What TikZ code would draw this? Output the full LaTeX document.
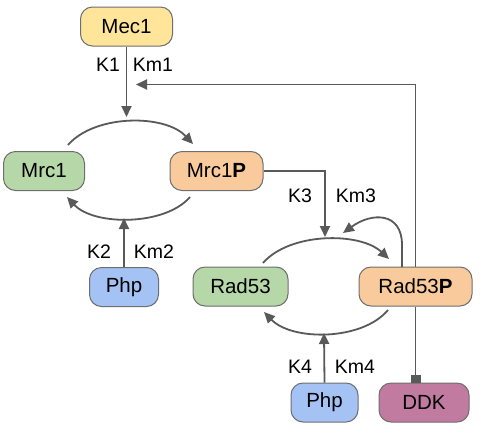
\documentclass[tikz,border=0pt]{standalone}
\usepackage{fontspec}
\setmainfont{Liberation Sans}
\usetikzlibrary{arrows.meta}
\definecolor{lineg}{HTML}{595959}
\definecolor{bord}{HTML}{6E6E6E}
\definecolor{cyel}{HTML}{FFE599}
\definecolor{cgrn}{HTML}{B6D7A8}
\definecolor{corg}{HTML}{F9CB9C}
\definecolor{cblu}{HTML}{A4C2F4}
\definecolor{cpur}{HTML}{C27BA0}
\tikzset{
  pbox/.style={draw=bord, line width=1pt, rounded corners=12pt, minimum height=39pt, inner sep=0pt, font=\fontsize{20.5}{23}\selectfont},
  lbl/.style={font=\fontsize{19.5}{22}\selectfont, inner sep=0pt},
  conn/.style={draw=lineg, line width=1.8pt},
  arr/.style={conn, -{Triangle[length=11pt,width=10pt]}},
  inh/.style={conn, -{Rectangle[length=8pt,width=10pt]}}
}
\begin{document}
\begin{tikzpicture}[x=1pt,y=-1pt]
\useasboundingbox (0,0) rectangle (481,429);
% nodes
\node[pbox, fill=cyel, minimum width=92pt] (mec1) at (126.5,26.5) {Mec1};
\node[pbox, fill=cgrn, minimum width=81pt] (mrc1) at (44,171) {Mrc1};
\node[pbox, fill=corg, minimum width=93pt] (mrc1p) at (216.5,171) {Mrc1\textbf{P}};
\node[pbox, fill=cblu, minimum width=69pt] (php1) at (124,287) {Php};
\node[pbox, fill=cgrn, minimum width=95pt] (rad53) at (240.5,286.5) {Rad53};
\node[pbox, fill=corg, minimum width=113pt] (rad53p) at (415.5,286.5) {Rad53\textbf{P}};
\node[pbox, fill=cblu, minimum width=67pt] (php2) at (324.5,402.5) {Php};
\node[pbox, fill=cpur, minimum width=90pt] (ddk) at (424,402.5) {DDK};
% labels
\node[lbl] (k1) at (108,65) {K1};
\node[lbl] (km1) at (153,65) {Km1};
\node[lbl] (k2) at (99,252) {K2};
\node[lbl] (km2) at (154,252) {Km2};
\node[lbl] (k3) at (300,196) {K3};
\node[lbl] (km3) at (356,196) {Km3};
\node[lbl] (k4) at (300,367) {K4};
\node[lbl] (km4) at (355,367) {Km4};
% coordinates
\coordinate (a1s) at (68,145);
\coordinate (a1e) at (193,144);
\coordinate (a2s) at (190,197);
\coordinate (a2e) at (67,197);
\coordinate (a3s) at (263,263);
\coordinate (a3e) at (389,259);
\coordinate (a4s) at (388,310);
\coordinate (a4e) at (264,312);
\coordinate (t1) at (126.5,117);
\coordinate (t2) at (124,218);
\coordinate (t3) at (325,237);
\coordinate (t4) at (324,333);
\coordinate (fbturn) at (415.5,84.5);
\coordinate (fbend) at (136,84.5);
\coordinate (m3turn) at (325,171);
\coordinate (lpstart) at (402,267);
\coordinate (lpend) at (343,233);
% arcs
\draw[arr] (a1s) .. controls (95,114) and (165,114) .. (a1e);
\draw[arr] (a2s) .. controls (165,226) and (94,226) .. (a2e);
\draw[arr] (a3s) .. controls (290,232) and (360,232) .. (a3e);
\draw[arr] (a4s) .. controls (362,341) and (292,341) .. (a4e);
% connectors
\draw[arr] (mec1.south) -- (t1);
\draw[arr] (php1.north) -- (t2);
\draw[arr] (mrc1p.east) -- (m3turn) -- (t3);
\draw[arr] (php2.north) -- (t4);
\draw[arr] (rad53p.north) -- (fbturn) -- (fbend);
\draw[arr] (lpstart) -- (402,245) .. controls (402,212) and (372,212) .. (lpend);
\draw[inh] (rad53p.south) -- (ddk.north -| rad53p.south);
\end{tikzpicture}
\end{document}
